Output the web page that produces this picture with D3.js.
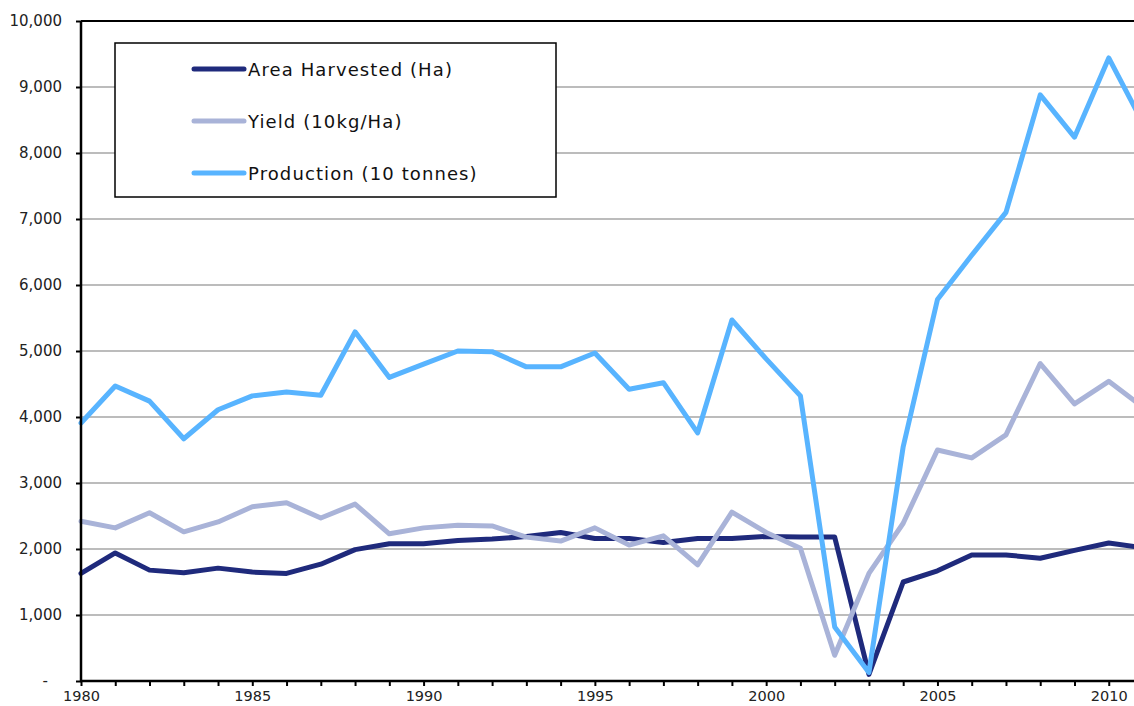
<!DOCTYPE html>
<html><head><meta charset="utf-8">
<script src="https://cdn.jsdelivr.net/npm/d3@7"></script>
<style>body{margin:0;background:#fff}svg{display:block}text{font-family:"DejaVu Sans",Verdana,sans-serif}</style>
</head><body><svg id="c" width="1134" height="706"></svg>
<script>
const years = d3.range(1980, 2012);
const areaHarvested = [1630,1940,1680,1640,1710,1650,1630,1770,1990,2080,2080,2130,2150,2190,2250,2160,2160,2100,2160,2160,2190,2180,2180,100,1500,1670,1910,1910,1860,1980,2090,2020];
const yieldVals = [2420,2320,2550,2260,2410,2640,2700,2470,2680,2230,2320,2360,2350,2180,2120,2320,2060,2200,1760,2560,2250,2010,390,1630,2390,3500,3380,3730,4810,4200,4540,4150];
const production = [3910,4470,4240,3670,4110,4320,4380,4330,5290,4600,4800,5000,4990,4760,4760,4970,4420,4520,3760,5470,4880,4320,820,130,3550,5780,6450,7100,8880,8240,9440,8450];
const yTicks = [0,1000,2000,3000,4000,5000,6000,7000,8000,9000,10000];
const xTickLabels = [1980,1985,1990,1995,2000,2005,2010];
const seriesNames = ["Area Harvested (Ha)","Yield (10kg/Ha)","Production (10 tonnes)"];
const seriesColors = ["#1f2a7c","#a9b3d8","#58b4ff"];
const seriesData = [areaHarvested, yieldVals, production];

const svg = d3.select("#c");
const x = d3.scaleLinear().domain([1980, 2011]).range([81, 1143]);
const y = d3.scaleLinear().domain([0, 10000]).range([681, 21]);

// gridlines
svg.append("g").selectAll("line").data(yTicks.slice(1)).join("line")
  .attr("x1", 81).attr("x2", 1134).attr("y1", d=>y(d)).attr("y2", d=>y(d))
  .attr("stroke", "#a6a6a6").attr("stroke-width", 1.5);
// top frame line
svg.append("line").attr("x1",81).attr("x2",1134).attr("y1",y(10000)).attr("y2",y(10000))
  .attr("stroke","#000").attr("stroke-width",2);

// lines
const line = d3.line().x((d,i)=>x(years[i])).y(d=>y(d));
seriesData.forEach((s,k)=>{
  svg.append("path").datum(s).attr("d", line).attr("fill","none")
    .attr("stroke", seriesColors[k]).attr("stroke-width", 5).attr("stroke-linejoin","round").attr("stroke-linecap","round");
});

// y axis
const yAxis = d3.axisLeft(y).tickValues(yTicks).tickSize(5).tickPadding(14)
  .tickFormat(d => d===0 ? "-" : d3.format(",")(d));
const gy = svg.append("g").attr("transform","translate(81,0)").call(yAxis);
gy.select(".domain").attr("stroke","#000").attr("stroke-width",2.5).attr("d","M0,21V682");
gy.selectAll(".tick line").attr("stroke","#000").attr("stroke-width",2);
gy.selectAll("text").attr("font-size",15).attr("fill","#222");
gy.selectAll(".tick").filter(d=>d===0).select("text").attr("dx",-14);

// x axis
const xAxis = d3.axisBottom(x).tickValues(years).tickSize(5).tickPadding(5)
  .tickFormat(d => xTickLabels.includes(d) ? String(d) : "");
const gx = svg.append("g").attr("transform","translate(0,681)").call(xAxis);
gx.select(".domain").attr("stroke","#000").attr("stroke-width",2.5).attr("d","M80,0H1134");
gx.selectAll(".tick line").attr("stroke","#000").attr("stroke-width",2);
gx.selectAll("text").attr("font-size",14.5).attr("fill","#222");

// legend
const lg = svg.append("g");
lg.append("rect").attr("x",115).attr("y",43).attr("width",441).attr("height",154)
  .attr("fill","#fff").attr("stroke","#000").attr("stroke-width",1.5);
seriesNames.forEach((n,k)=>{
  const ly = 69 + k*52;
  lg.append("line").attr("x1",194).attr("x2",244).attr("y1",ly).attr("y2",ly)
    .attr("stroke",seriesColors[k]).attr("stroke-width",5).attr("stroke-linecap","round");
  lg.append("text").attr("x",248).attr("y",ly+6.5).attr("font-size",18).attr("letter-spacing",1.1).attr("fill","#111").text(n);
});
</script></body></html>
